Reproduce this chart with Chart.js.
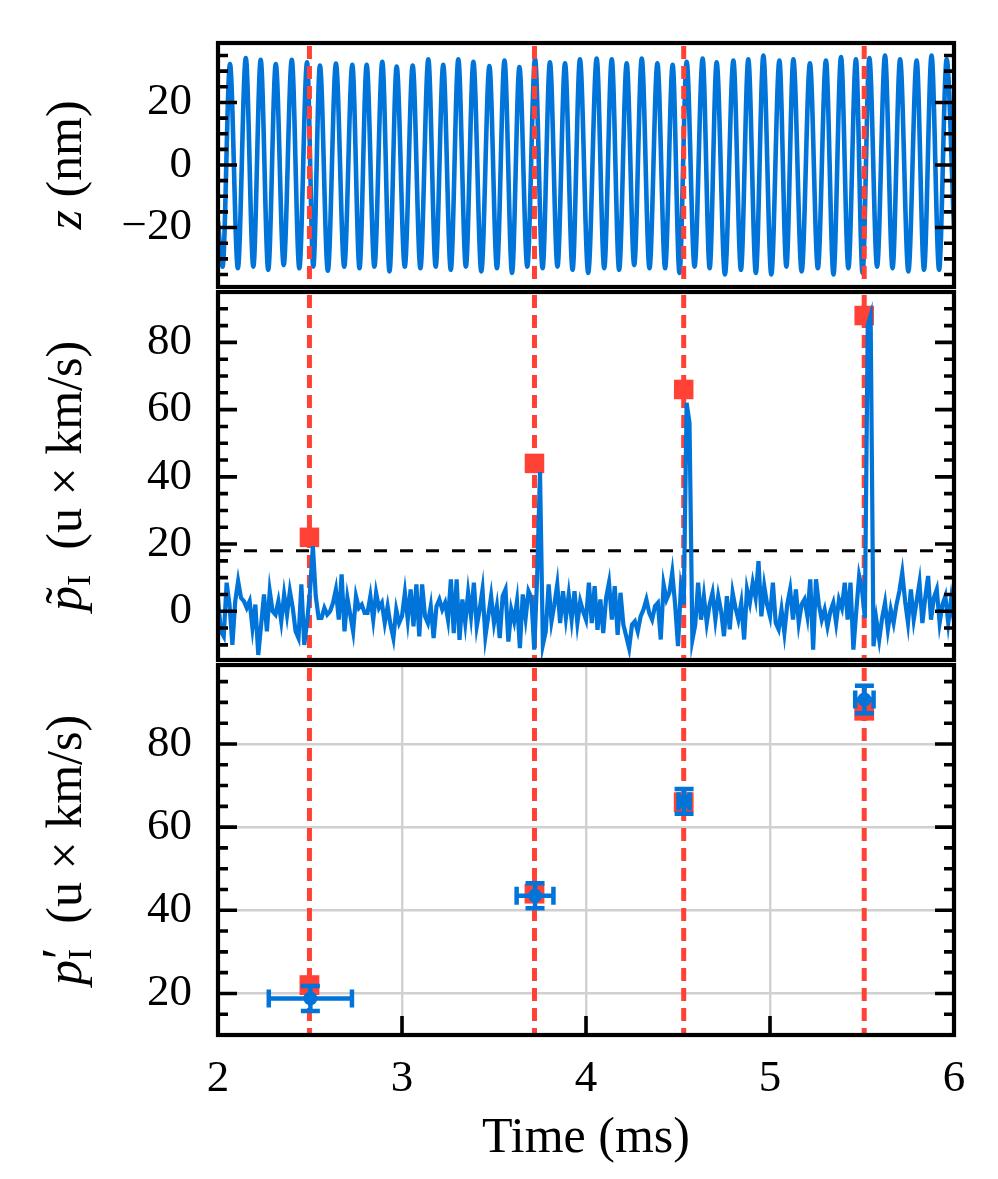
<!DOCTYPE html>
<html>
<head>
<meta charset="utf-8">
<script src="https://cdn.jsdelivr.net/npm/chart.js@4.4.1/dist/chart.umd.min.js"></script>
<style>
  html, body { margin: 0; padding: 0; background: #fff; }
  #wrap { position: relative; width: 998px; height: 1179px; overflow: hidden; background: #fff; }
  canvas { position: absolute; left: 0; }
</style>
</head>
<body>
<div id="wrap">
  <canvas id="chartZ" width="998" height="292" style="top:0px"></canvas>
  <canvas id="chartP" width="998" height="372" style="top:290px"></canvas>
  <canvas id="chartQ" width="998" height="517" style="top:662px"></canvas>
</div>
<script>
// ---- data ----
const timeTicks = [2, 3, 4, 5, 6];
const kickTimes = [2.497, 3.72, 4.531, 5.512];

// z(t): turning points of the oscillation (ms, nm)
const zTimes = [
  2.000, 2.025, 2.065, 2.108, 2.151, 2.192, 2.232, 2.273, 2.314, 2.357,
  2.401, 2.442, 2.484, 2.518, 2.554, 2.597, 2.641, 2.686, 2.730, 2.769,
  2.808, 2.850, 2.893, 2.932, 2.971, 3.015, 3.058, 3.100, 3.143, 3.183,
  3.224, 3.265, 3.306, 3.347, 3.388, 3.431, 3.475, 3.516, 3.557, 3.598,
  3.638, 3.681, 3.723, 3.764, 3.804, 3.845, 3.886, 3.927, 3.967, 4.012,
  4.058, 4.099, 4.140, 4.180, 4.221, 4.262, 4.303, 4.345, 4.388, 4.430,
  4.471, 4.508, 4.547, 4.590, 4.634, 4.672, 4.710, 4.755, 4.801, 4.842,
  4.882, 4.923, 4.964, 5.007, 5.051, 5.089, 5.127, 5.172, 5.217, 5.260,
  5.304, 5.345, 5.386, 5.426, 5.467, 5.503, 5.540, 5.582, 5.625, 5.666,
  5.707, 5.752, 5.797, 5.837, 5.878, 5.919, 5.960, 6.000
];
const zValues = [
  -18, -32.5, 32.3, -33, 34.2, -32.5, 33.6, -33.5, 32.3, -32,
  33.6, -33, 32.8, -32.5, 31.8, -33.8, 32.4, -32.5, 32, -33,
  32, -32.5, 33, -34, 31.5, -32.5, 31.8, -33, 33.8, -32.5,
  32, -33.5, 33.8, -32.5, 33, -34, 31.6, -33, 33.4, -34.5,
  31.3, -32.5, 34, -33, 32.8, -32.5, 32.5, -33.5, 33.8, -34.5,
  34, -33, 33.8, -33.5, 32.5, -32, 34, -33, 32.5, -33,
  32, -34.5, 33, -32.5, 34, -33, 32.8, -35, 33.4, -33.5,
  33.8, -34.5, 35, -35, 33.4, -32.5, 33.8, -34, 32.5, -33,
  33.4, -35, 34.5, -33, 33.8, -34.5, 34.2, -32.5, 35, -33,
  33.8, -34, 33.4, -33.5, 35, -33.5, 33.8, -20
];
const zTicks = [-20, 0, 20];

// p~_I(t): sampled every 1/64 ms starting at 2 ms (u x km/s)
const pStart = 2.0;
const pStep = 1 / 64;
const pTildeValues = [
  4, -6, -7.5, 8.5, 2, -10, 3, 9, 4, 3,
  1, 3, -5, 2, -13, -4, 5, -6, 6, 0,
  -1, 3, -3, 5, -1, 6, 1, -6, -8, 8,
  -10, -3, 6, 19.4, 4.5, -2, -2, 1, -1, 0,
  2.5, 6.5, -2.5, 11, -6, 4, -1, -6, 4.5, 1,
  2, -0.5, -0.5, 4.5, -2.5, 5.5, 1, 2.5, -3.5, 1.5,
  -4, -8, 0.5, -3.5, -1.5, 5.5, -2.5, 6.5, -4.5, 8,
  -7.5, 8, -1.5, -3.5, 1.5, -8, 1.5, 3.5, 0.5, 2.5,
  -2.5, 9.5, -6.5, 9.5, -8.5, 3.5, -3.5, 5.5, -1.5, 8.5,
  -4.5, 0.5, 6.5, -7.5, -1.5, 4.5, -3.5, 1.5, -8, 4.5,
  6.5, -9, 0.5, -3, 3, -11, 5, -2, 6, 4,
  -11.4, 10, 41.4, -10, -6, 8, -3, 2, 8, -3.5,
  6, -2, 5, -2.5, 6, -3.5, 3, 0, -2.5, 8.5,
  -3.5, 7.5, -5.5, 3.5, -6.5, 4, 8.5, -2.5, 7.5, -7,
  5.5, -4, -7.4, -11, -4, -3, -6, -1.5, 0.5, 3.5,
  -0.5, -2.5, 1.5, 2.5, -8.4, 8, 3.5, 5.5, 11.5, 2,
  -10.4, 7, 2, 62, 56, -8.5, -4, 8.5, -2.5, 4.5,
  -3.5, 2, 5.5, -2.5, 4.5, 0, -7.4, 4.5, -5.4, 5.5,
  1, -2.5, 2.5, -8.4, 6.5, 2.5, 8.5, 4, 14.9, -1.5,
  7.5, 2, -1.5, 8.5, -3.5, -5.4, 0.5, -6.4, 2, 6.5,
  -2.5, 6.5, -3.5, 2, 3.5, -1.5, 9.5, -11.4, 9.5, 2,
  -2.5, 0.5, -4.5, 0, 2.5, -3.5, 3.5, 1, 8.5, -2.5,
  8.5, -11.4, 0, 10.5, 6.5, -2, 85, 88, -10.4, -2.5,
  -8.4, -2, 2.5, -5.4, 0.5, -3.5, 2, 6, 11.5, 3,
  -3.5, 6.5, -2.5, 3, 8.5, -3.5, 4, 10.5, -2.5, 4,
  6.5, -3.5, 2, 4.5, -3.5, 3.5, -3
];
const pTildeThreshold = 18;
const kickMomenta = [22, 44, 66, 88];
const pTildeTicks = [0, 20, 40, 60, 80];

// p'_I fitted kicks with error bars
const fitTimes = [2.502, 3.723, 4.533, 5.513];
const fitValues = [18.8, 43.5, 66.2, 90.7];
const fitTimeErr = [0.226, 0.10, 0.03, 0.05];
const fitValueErr = [3.0, 3.0, 3.0, 3.3];
const pPrimeTicks = [20, 40, 60, 80];

// ---- styling ----
const FONT = '"Liberation Serif", "Times New Roman", serif';
const BLUE = '#0074D9';
const RED = '#FF4136';
const GRID = '#d0d0d0';
const TICK_SIZE = 45;
const TITLE_SIZE = 50;

Chart.defaults.font.family = FONT;
Chart.defaults.color = '#000';

function yAxis(min, max, ticks, showGrid) {
  return {
    type: 'linear', position: 'left', min: min, max: max, bounds: 'data',
    grid: { display: showGrid, color: GRID, lineWidth: 2.4, drawTicks: false },
    border: { display: false },
    afterBuildTicks: function (s) { s.ticks = ticks.map(function (v) { return { value: v }; }); },
    afterFit: function (s) { s.width = 218; s.paddingTop = 0; s.paddingBottom = 0; },
    ticks: {
      padding: 26, color: '#000', font: { family: FONT, size: TICK_SIZE },
      callback: function (v) { return v < 0 ? '\u2212' + Math.abs(v) : String(v); }
    }
  };
}

function hiddenX() {
  return { type: 'linear', min: 2, max: 6, display: false };
}

// rotated y label made of several font runs
function drawRich(ctx, parts, cx, cy) {
  ctx.save();
  ctx.translate(cx, cy);
  ctx.rotate(-Math.PI / 2);
  ctx.fillStyle = '#000';
  ctx.textBaseline = 'alphabetic';
  ctx.textAlign = 'left';
  let total = 0;
  parts.forEach(function (p) {
    ctx.font = p.font;
    p.w = ctx.measureText(p.text).width;
    if (p.advance !== false) total += p.w;
  });
  let x = -total / 2, prev = x;
  parts.forEach(function (p) {
    ctx.font = p.font;
    const base = p.at === 'prev' ? prev : x;
    ctx.fillText(p.text, base + (p.dx || 0), p.dy || 0);
    if (p.advance !== false) { prev = x; x += p.w; }
  });
  ctx.restore();
}

function drawKicks(chart) {
  const ctx = chart.ctx, a = chart.chartArea, sx = chart.scales.x;
  ctx.save();
  ctx.strokeStyle = RED;
  ctx.lineWidth = 5;
  ctx.setLineDash([13, 7]);
  kickTimes.forEach(function (t) {
    const x = sx.getPixelForValue(t);
    ctx.beginPath();
    ctx.moveTo(x, a.top + 3);
    ctx.lineTo(x, a.bottom);
    ctx.stroke();
  });
  ctx.restore();
}

function framePlugin(opt) {
  return {
    id: 'frame' + opt.name,
    beforeDatasetsDraw: function (chart) {
      const ctx = chart.ctx, a = chart.chartArea;
      if (opt.hLine !== undefined) {
        const y = chart.scales.y.getPixelForValue(opt.hLine);
        ctx.save();
        ctx.strokeStyle = '#000';
        ctx.lineWidth = 3;
        ctx.setLineDash([13, 13]);
        ctx.beginPath();
        ctx.moveTo(a.left, y);
        ctx.lineTo(a.right, y);
        ctx.stroke();
        ctx.restore();
      }
      if (!opt.kicksOnTop) drawKicks(chart);
    },
    afterDatasetsDraw: function (chart) {
      if (opt.kicksOnTop) drawKicks(chart);
      if (opt.errorBars) opt.errorBars(chart);
    },
    afterDraw: function (chart) {
      const ctx = chart.ctx, a = chart.chartArea, sy = chart.scales.y;
      ctx.save();
      ctx.strokeStyle = '#000';
      ctx.lineWidth = 3.6;
      ctx.beginPath();
      const min = sy.min, max = sy.max;
      for (let v = Math.ceil(min / 5) * 5; v <= max; v += 5) {
        const major = opt.yTicks.indexOf(v) >= 0;
        const len = major ? 19 : 10;
        const y = sy.getPixelForValue(v);
        ctx.moveTo(a.left, y); ctx.lineTo(a.left + len, y);
        ctx.moveTo(a.right, y); ctx.lineTo(a.right - len, y);
      }
      if (opt.xTicks) {
        opt.xTicks.forEach(function (t) {
          const x = chart.scales.x.getPixelForValue(t);
          ctx.moveTo(x, a.bottom); ctx.lineTo(x, a.bottom - 19);
        });
      }
      ctx.stroke();
      ctx.lineWidth = 4.2;
      ctx.strokeRect(a.left, a.top, a.right - a.left, a.bottom - a.top);
      ctx.restore();
      drawRich(ctx, opt.title, 81, (a.top + a.bottom) / 2);
    }
  };
}

const italic = 'italic ' + TITLE_SIZE + 'px ' + FONT;
const upright = TITLE_SIZE + 'px ' + FONT;
const small = '34px ' + FONT;

const common = {
  responsive: false,
  animation: false,
  events: [],
  plugins: { legend: { display: false }, tooltip: { enabled: false } }
};

// ---- panel 1: z ----
new Chart(document.getElementById('chartZ'), {
  type: 'line',
  data: {
    datasets: [{
      data: zTimes.map(function (t, i) { return { x: t, y: zValues[i] }; }),
      borderColor: BLUE, borderWidth: 4.6, pointRadius: 0,
      cubicInterpolationMode: 'monotone', fill: false
    }]
  },
  options: Object.assign({}, common, {
    layout: { autoPadding: false, padding: { top: 43, bottom: 5, left: 0, right: 44 } },
    scales: { x: hiddenX(), y: yAxis(-39, 39, zTicks, false) }
  }),
  plugins: [framePlugin({
    name: 'Z', yTicks: zTicks, kicksOnTop: true,
    title: [{ text: 'z', font: italic }, { text: ' (nm)', font: upright }]
  })]
});

// ---- panel 2: p~_I ----
new Chart(document.getElementById('chartP'), {
  type: 'line',
  data: {
    datasets: [{
      data: pTildeValues.map(function (v, i) { return { x: pStart + i * pStep, y: v }; }),
      borderColor: BLUE, borderWidth: 4.2, pointRadius: 0, fill: false
    }, {
      data: kickTimes.map(function (t, i) { return { x: t, y: kickMomenta[i] }; }),
      showLine: false, pointStyle: 'rect', pointRadius: 13.8,
      backgroundColor: RED, borderWidth: 0
    }]
  },
  options: Object.assign({}, common, {
    layout: { autoPadding: false, padding: { top: 2, bottom: 2, left: 0, right: 44 } },
    scales: { x: hiddenX(), y: yAxis(-14.5, 95, pTildeTicks, false) }
  }),
  plugins: [framePlugin({
    name: 'P', yTicks: pTildeTicks, hLine: pTildeThreshold,
    title: [
      { text: 'p', font: italic },
      { text: '\u02DC', font: upright, at: 'prev', dx: 7, dy: -1, advance: false },
      { text: 'I', font: small, dy: 9 },
      { text: '  (u \u00D7 km/s)', font: upright }
    ]
  })]
});

// ---- panel 3: p'_I ----
function drawErrorBars(chart) {
  const ctx = chart.ctx, sx = chart.scales.x, sy = chart.scales.y;
  ctx.save();
  ctx.strokeStyle = BLUE;
  ctx.lineWidth = 4.5;
  ctx.beginPath();
  fitTimes.forEach(function (t, i) {
    const x = sx.getPixelForValue(t), y = sy.getPixelForValue(fitValues[i]);
    const x1 = sx.getPixelForValue(t - fitTimeErr[i]), x2 = sx.getPixelForValue(t + fitTimeErr[i]);
    const y1 = sy.getPixelForValue(fitValues[i] - fitValueErr[i]), y2 = sy.getPixelForValue(fitValues[i] + fitValueErr[i]);
    ctx.moveTo(x1, y); ctx.lineTo(x2, y);
    ctx.moveTo(x, y1); ctx.lineTo(x, y2);
    ctx.moveTo(x1, y - 9); ctx.lineTo(x1, y + 9);
    ctx.moveTo(x2, y - 9); ctx.lineTo(x2, y + 9);
    ctx.moveTo(x - 9.5, y1); ctx.lineTo(x + 9.5, y1);
    ctx.moveTo(x - 9.5, y2); ctx.lineTo(x + 9.5, y2);
  });
  ctx.stroke();
  ctx.restore();
}

new Chart(document.getElementById('chartQ'), {
  type: 'line',
  data: {
    datasets: [{
      data: fitTimes.map(function (t, i) { return { x: t, y: fitValues[i] }; }),
      showLine: false, pointStyle: 'circle', pointRadius: 7,
      backgroundColor: BLUE, borderWidth: 0
    }, {
      data: kickTimes.map(function (t, i) { return { x: t, y: kickMomenta[i] }; }),
      showLine: false, pointStyle: 'rect', pointRadius: 14,
      backgroundColor: RED, borderWidth: 0
    }]
  },
  options: Object.assign({}, common, {
    layout: { autoPadding: false, padding: { top: 3, bottom: 0, left: 0, right: 44 } },
    scales: {
      x: {
        type: 'linear', position: 'bottom', min: 2, max: 6, bounds: 'data',
        afterBuildTicks: function (s) { s.ticks = timeTicks.map(function (v) { return { value: v }; }); },
        afterFit: function (s) { s.height = 144; s.paddingLeft = 0; s.paddingRight = 0; },
        grid: { color: GRID, lineWidth: 2.4, drawTicks: false },
        border: { display: false },
        ticks: { padding: 17, color: '#000', maxRotation: 0, autoSkip: false, font: { family: FONT, size: TICK_SIZE } },
        title: { display: true, text: 'Time (ms)', color: '#000', font: { family: FONT, size: TITLE_SIZE }, padding: { top: 0, bottom: 10 } }
      },
      y: yAxis(10, 99, pPrimeTicks, true)
    }
  }),
  plugins: [framePlugin({
    name: 'Q', yTicks: pPrimeTicks, xTicks: timeTicks, errorBars: drawErrorBars,
    title: [
      { text: 'p', font: italic },
      { text: '\u2032', font: '52px ' + FONT, dx: 1, dy: -3, advance: false },
      { text: 'I', font: small, dy: 10 },
      { text: '  (u \u00D7 km/s)', font: upright }
    ]
  })]
});
</script>
</body>
</html>
